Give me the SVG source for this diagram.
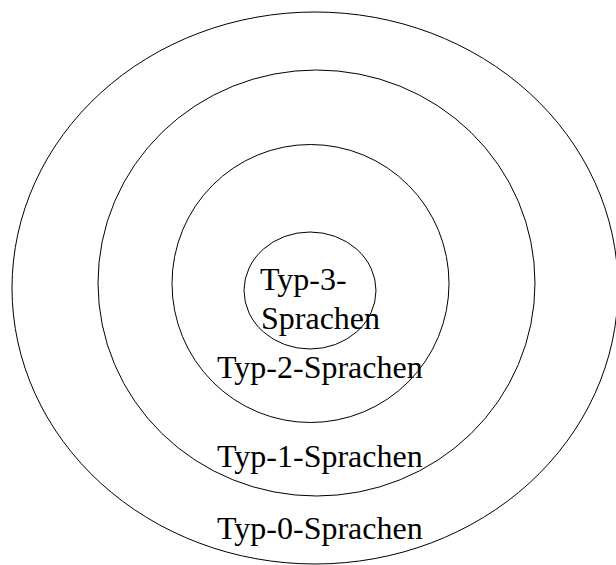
<svg xmlns="http://www.w3.org/2000/svg" width="616" height="565" viewBox="0 0 616 565">
  <style>
    .ring { fill: none; stroke: #000; stroke-width: 1; }
    .label { font-family: "Liberation Serif", "Times New Roman", serif; font-size: 32px; fill: #000; }
  </style>
  <rect width="616" height="565" fill="#fff"/>
  <!-- Chomsky hierarchy: nested language classes -->
  <g id="typ0">
    <ellipse class="ring" cx="315" cy="288" rx="303" ry="276"/>
    <text class="label" x="217" y="539">Typ-0-Sprachen</text>
  </g>
  <g id="typ1">
    <ellipse class="ring" cx="316.5" cy="283" rx="218.5" ry="213"/>
    <text class="label" x="217" y="467">Typ-1-Sprachen</text>
  </g>
  <g id="typ2">
    <ellipse class="ring" cx="310.5" cy="283.5" rx="138.5" ry="139"/>
    <text class="label" x="217" y="378">Typ-2-Sprachen</text>
  </g>
  <g id="typ3">
    <ellipse class="ring" cx="310" cy="290.5" rx="66" ry="58.5"/>
    <text class="label" x="260" y="290">Typ-3-</text>
    <text class="label" x="261" y="329">Sprachen</text>
  </g>
</svg>
